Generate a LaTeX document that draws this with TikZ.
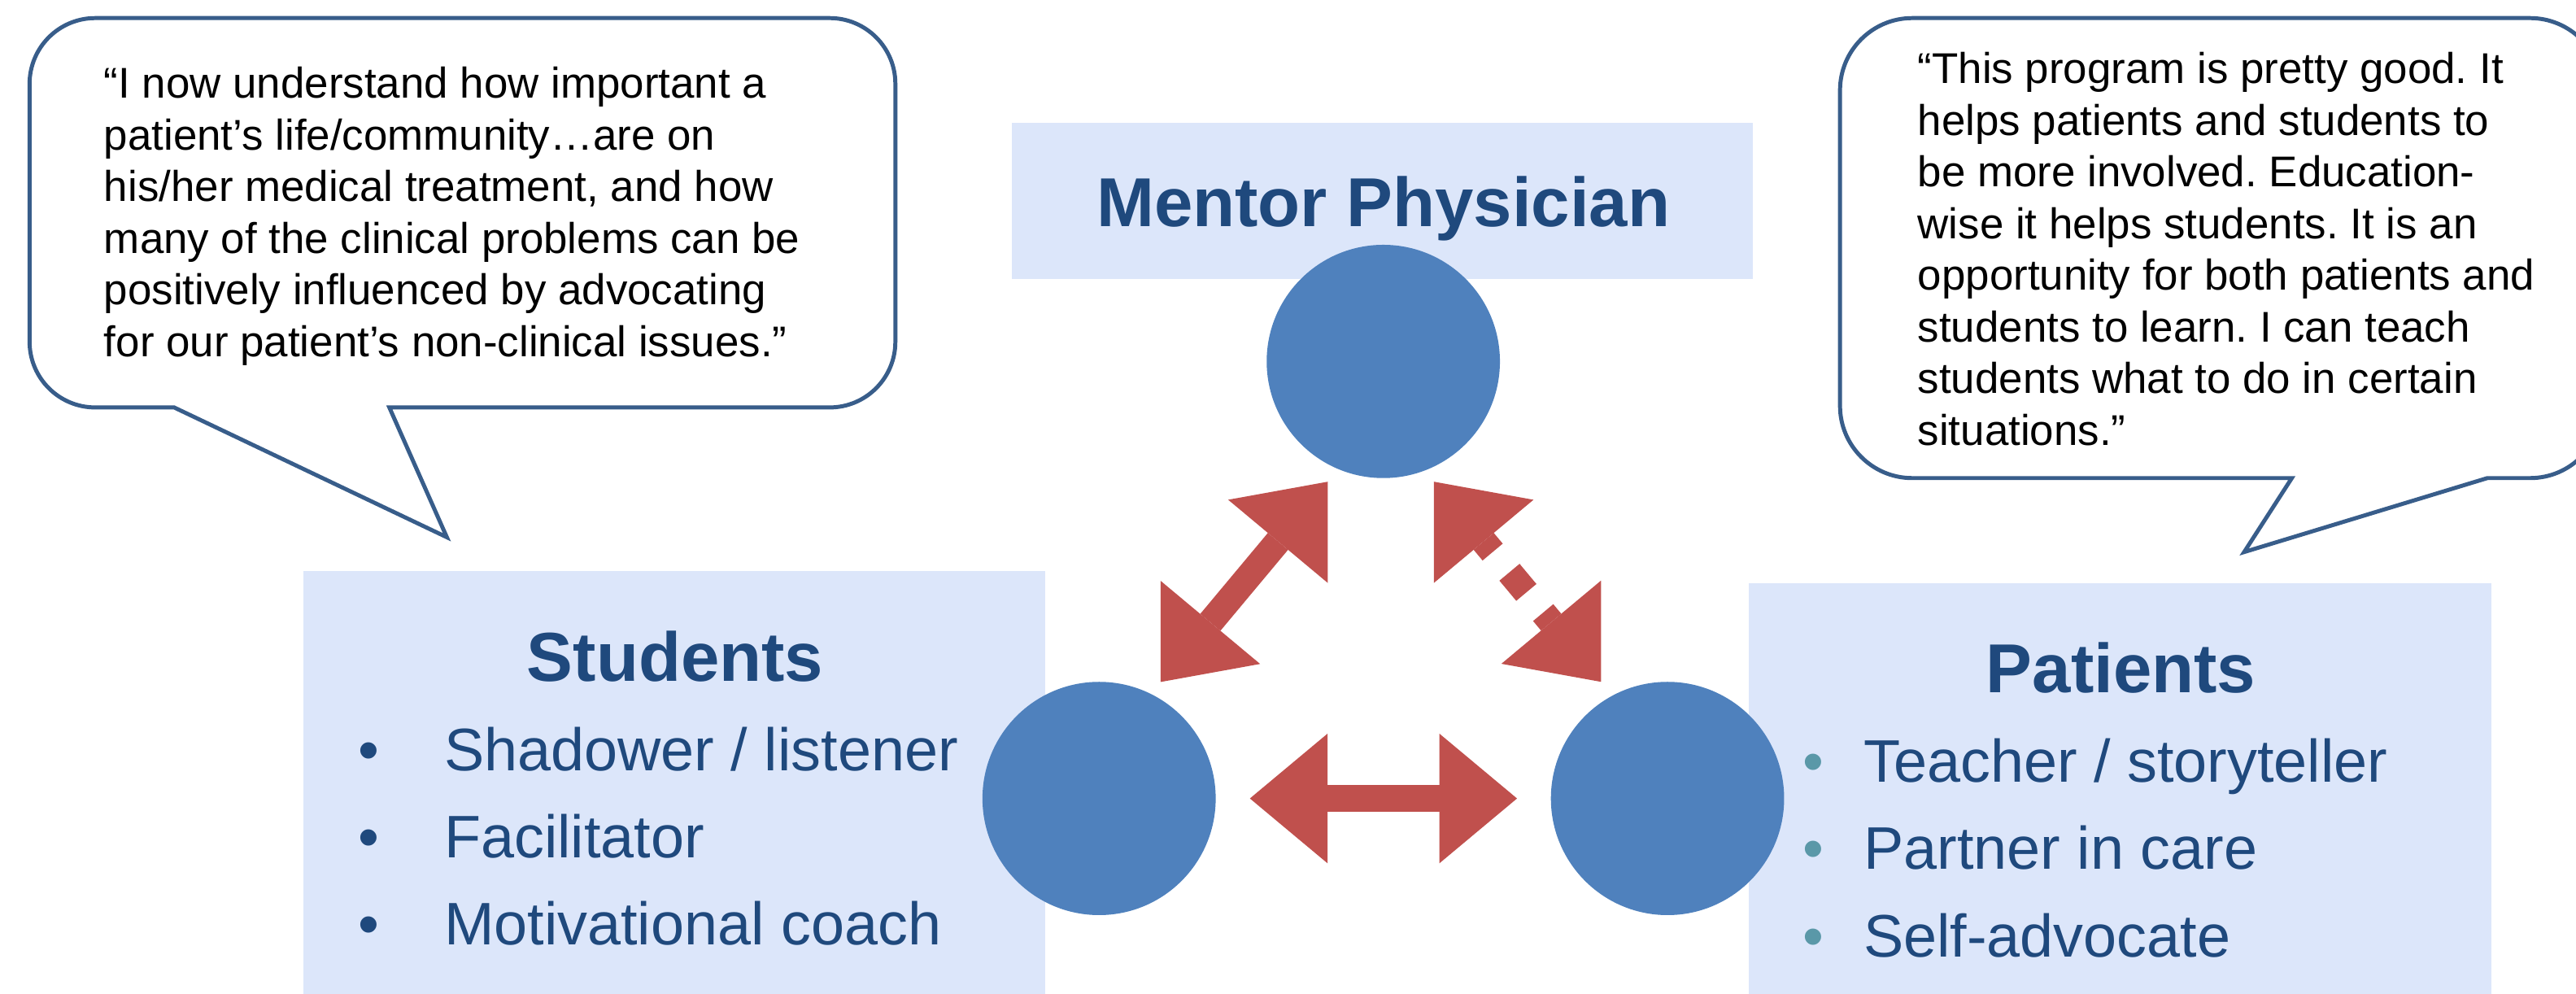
\documentclass[tikz,border=0pt]{standalone}
\usepackage{fontspec}
\setmainfont{Liberation Sans}
\usetikzlibrary{arrows.meta}
\frenchspacing

\definecolor{boxfill}{RGB}{220,230,250}
\definecolor{circblue}{RGB}{79,129,189}
\definecolor{arrowred}{RGB}{192,80,77}
\definecolor{titleblue}{RGB}{31,73,125}
\definecolor{bubbleline}{RGB}{56,93,138}
\definecolor{tealbullet}{RGB}{90,152,168}

\begin{document}
\begin{tikzpicture}[x=0.02cm, y=-0.02cm,
  panel/.style={fill=boxfill},
  role/.style={circle, fill=circblue, minimum size=2.84cm, inner sep=0pt},
  heading/.style={font=\fontsize{24}{28}\selectfont\bfseries, text=titleblue, inner sep=0pt, anchor=base},
  item/.style={font=\fontsize{20.8}{25}\selectfont, text=titleblue, inner sep=0pt, anchor=base west},
  dot/.style={font=\fontsize{20.8}{25}\selectfont, inner sep=0pt, anchor=base},
  bubble/.style={draw=bubbleline, line width=1.4pt, fill=white, line join=miter},
  % the base anchor of a multi-line node lies on its last line
  quote/.style={font=\fontsize{14.9}{17.9}\selectfont, align=left, inner sep=0pt, anchor=base west},
  link/.style={draw=arrowred, line width=0.32cm,
    >={Triangle[length=0.946cm, width=1.58cm, line width=0pt]}, <->},
]
\useasboundingbox (0,0) rectangle (1568,605);
\clip (0,0) rectangle (1568,605);

% panels behind the three roles
\path[panel] (616,75) rectangle (1067,170);
\path[panel] (184.7,347.5) rectangle (636,610);
\path[panel] (1064.5,355) rectangle (1516.5,610);

% speech bubbles
\draw[bubble] (237,248) -- (272,327) -- (106,248) -- (58,248)
  arc[start angle=90, end angle=180, radius=40] -- (18,51)
  arc[start angle=180, end angle=270, radius=40] -- (505,11)
  arc[start angle=270, end angle=360, radius=40] -- (545,208)
  arc[start angle=0, end angle=90, radius=40] -- cycle;
\draw[bubble] (1514,291) -- (1366,336) -- (1395,291) -- (1164,291)
  arc[start angle=90, end angle=180, radius=44] -- (1120,55)
  arc[start angle=180, end angle=270, radius=44] -- (1540,11)
  arc[start angle=270, end angle=360, radius=44] -- (1584,247)
  arc[start angle=0, end angle=90, radius=44] -- cycle;

\node[quote] (studentquote) at (63,217) {“I now understand how important a\\
patient’s life/community…are on\\
his/her medical treatment, and how\\
many of the clinical problems can be\\
positively influenced by advocating\\
for our patient’s non-clinical issues.”};

\node[quote] (patientquote) at (1167,271) {“This program is pretty good. It\\
helps patients and students to\\
be more involved. Education-\\
wise it helps students. It is an\\
opportunity for both patients and\\
students to learn. I can teach\\
students what to do in certain\\
situations.”};

% titles
\node[heading] (mentortitle) at (842,138) {Mentor Physician};
\node[heading] (studenttitle) at (411,414.6) {Students};
\node[heading] (patienttitle) at (1291,421.6) {Patients};

% role lists
\foreach \txt [count=\i] in {Shadower / listener, Facilitator, Motivational coach} {
  \node[dot, text=titleblue] (sdot\i) at (224.5, {469+53*(\i-1)}) {•};
  \node[item] (sitem\i) at (270, {469+53*(\i-1)}) {\txt};
}
\foreach \txt [count=\i] in {Teacher / storyteller, Partner in care, Self-advocate} {
  \node[dot, text=tealbullet] (pdot\i) at (1104, {475.8+53.3*(\i-1)}) {•};
  \node[item] (pitem\i) at (1134, {475.8+53.3*(\i-1)}) {\txt};
}

% the three roles
\node[role] (mentor) at (842,220) {};
\node[role] (student) at (669,486) {};
\node[role] (patient) at (1015,486) {};

% relationships
\coordinate (spL) at (760.8,486);
\coordinate (spR) at (923.4,486);
\coordinate (smA) at (706.4,415.1);
\coordinate (smB) at (808.2,293.2);
\coordinate (mpA) at (872.8,293.2);
\coordinate (mpB) at (974.5,415);
\draw[link] (spL) -- (spR);
\draw[link] (smA) -- (smB);
\draw[link, dash pattern=on 0.32cm off 0.32cm, dash phase=0.15cm] (mpA) -- (mpB);
\end{tikzpicture}
\end{document}
